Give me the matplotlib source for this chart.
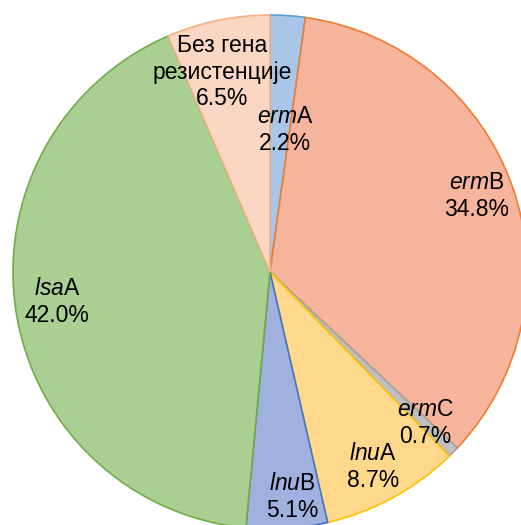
import matplotlib.pyplot as plt

plt.rcParams['font.family'] = ['Liberation Sans', 'DejaVu Sans']
plt.rcParams['mathtext.fontset'] = 'custom'
plt.rcParams['mathtext.rm'] = 'Liberation Sans'
plt.rcParams['mathtext.it'] = 'Liberation Sans:italic'

# Resistance gene shares (%), clockwise from the top
genes = ['ermA', 'ermB', 'ermC', 'lnuA', 'lnuB', 'lsaA', 'none']
shares = [2.2, 34.8, 0.7, 8.7, 5.1, 42.0, 6.5]
names = [r'$\mathit{erm}$A', r'$\mathit{erm}$B', r'$\mathit{erm}$C',
         r'$\mathit{lnu}$A', r'$\mathit{lnu}$B', r'$\mathit{lsa}$A',
         'Без гена\nрезистенције']
fills = ['#a9c5e8', '#f5b49b', '#bfbfbf', '#ffd88c', '#a0b1df', '#aacf92', '#fbd6c2']
edges = ['#5b9bd5', '#ed7d31', '#a5a5a5', '#ffc000', '#4472c4', '#70ad47', '#f4b183']

# label anchor points (pixels from top-left)
label_xy = [(285, 130), (477, 196), (425, 423), (373, 467),
            (292, 497), (57, 302), (222, 72)]

W, H = 521, 525
fig = plt.figure(figsize=(W / 100, H / 100), dpi=100)
ax = fig.add_axes([0, 0, 1, 1])

wedges, _ = ax.pie(shares, colors=fills, startangle=90, counterclock=False,
                   center=(270, H - 272), radius=257,
                   wedgeprops=dict(linewidth=1.2))
for w, ec in zip(wedges, edges):
    w.set_edgecolor(ec)

ax.set_xlim(0, W)
ax.set_ylim(0, H)
ax.set_aspect('equal')
ax.axis('off')

for name, val, (x, y) in zip(names, shares, label_xy):
    ax.text(x, H - y, f'{name}\n{val:.1f}%', ha='center', va='center',
            fontsize=16.5, color='#000000', linespacing=1.2)

fig.savefig('out.png', dpi=100)
